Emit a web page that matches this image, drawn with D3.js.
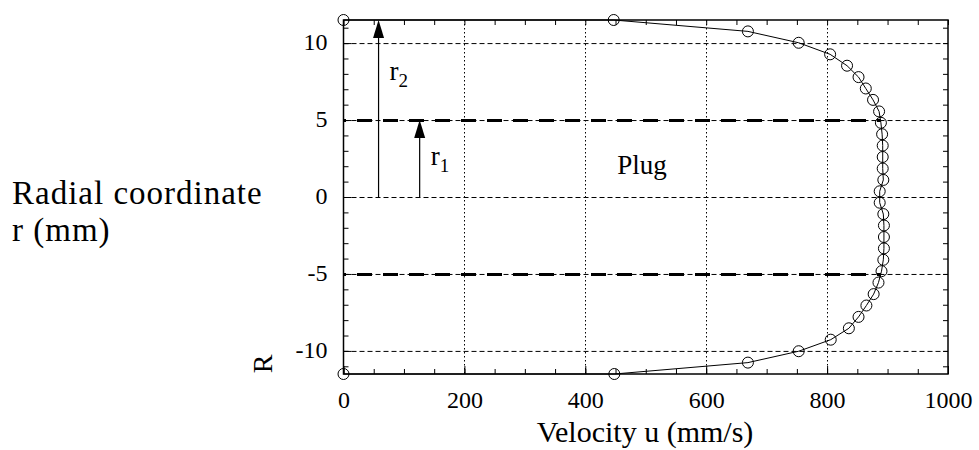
<!DOCTYPE html>
<html>
<head>
<meta charset="utf-8">
<script src="https://cdn.jsdelivr.net/npm/d3@7/dist/d3.min.js"></script>
<style>
  body { margin: 0; background: #fff; }
  svg { display: block; }
  .serif { font-family: "Liberation Serif", "Times New Roman", serif; fill: #000; }
</style>
</head>
<body>
<div id="chart"></div>
<script>
'use strict';

// Data: velocity profile u(r) (mm, mm/s)
var radius = [11.5, 11.5, 10.76, 10.02, 9.27, 8.53, 7.79, 7.05, 6.31, 5.56, 4.82, 4.08, 3.34,
  2.60, 1.85, 1.11, 0.37, -0.37, -1.11, -1.85, -2.60, -3.34, -4.08, -4.82, -5.56, -6.31,
  -7.05, -7.79, -8.53, -9.27, -10.02, -10.76, -11.5, -11.5]
var velocity = [0, 447, 669, 753, 805, 833, 852, 864, 876, 886, 889, 891, 892,
  892, 892, 893, 887, 887, 893, 894, 894, 894, 893, 890, 885, 877,
  865, 852, 836, 806, 753, 669, 448, 0]

var uTicks = [0, 200, 400, 600, 800, 1000]
var rTicks = [-10, -5, 0, 5, 10]
var uGrid = [200, 400, 600, 800]
var rGrid = [-10, -5, 0, 5, 10]
var plugR = [5, -5]
var plugU = 889

// arrows r1 / r2 drawn from r = 0 up to the given radius
var arrowNames = ['r2', 'r1']
var arrowU = [58, 126]
var arrowR = [11.5, 5]

var width = 979, height = 450
var serif = '"Liberation Serif", "Times New Roman", serif'

var x = d3.scaleLinear().domain([0, 1000]).range([343.5, 948])
var y = d3.scaleLinear().domain([-11.5, 11.5]).range([374, 20])

var svg = d3.select('#chart').append('svg')
  .attr('width', width)
  .attr('height', height)

// Grid
svg.append('g').selectAll('line')
  .data(rGrid)
  .enter().append('line')
    .attr('x1', x(0)).attr('x2', x(1000))
    .attr('y1', function(d) { return y(d) + 0.5 })
    .attr('y2', function(d) { return y(d) + 0.5 })
    .style('stroke', '#000')
    .style('stroke-width', 1)
    .style('stroke-dasharray', '5,3')

svg.append('g').selectAll('line')
  .data(uGrid)
  .enter().append('line')
    .attr('x1', function(d) { return Math.round(x(d)) + 0.5 })
    .attr('x2', function(d) { return Math.round(x(d)) + 0.5 })
    .attr('y1', y(11.5)).attr('y2', y(-11.5))
    .style('stroke', '#000')
    .style('stroke-width', 1)
    .style('stroke-dasharray', '1.5,2.5')

// Plug boundaries
svg.append('g').selectAll('line')
  .data(plugR)
  .enter().append('line')
    .attr('x1', x(0)).attr('x2', x(plugU))
    .attr('y1', function(d) { return y(d) + 0.5 })
    .attr('y2', function(d) { return y(d) + 0.5 })
    .style('stroke', '#000')
    .style('stroke-width', 3)
    .style('stroke-dasharray', '15,11')
    .style('stroke-dashoffset', 12.5)

// Axes (ticks inward)
var fmt = function(d) { return String(d) }

function styleAxis(g) {
  g.attr('font-family', serif).attr('font-size', 24)
  g.select('.domain').remove()
  g.selectAll('line').style('stroke', '#000').style('stroke-width', 1)
  g.selectAll('text').style('fill', '#000')
}

svg.append('g')
  .attr('transform', 'translate(0,' + y(-11.5) + ')')
  .call(d3.axisBottom(x).ticks(20).tickSize(-5).tickSizeOuter(0).tickFormat(''))
  .call(styleAxis)
svg.append('g')
  .attr('transform', 'translate(0,' + y(-11.5) + ')')
  .call(d3.axisBottom(x).tickValues(uTicks).tickSize(-8).tickSizeOuter(0).tickPadding(17).tickFormat(fmt))
  .call(styleAxis)

svg.append('g')
  .attr('transform', 'translate(0,' + y(11.5) + ')')
  .call(d3.axisTop(x).ticks(20).tickSize(-5).tickSizeOuter(0).tickFormat(''))
  .call(styleAxis)

svg.append('g')
  .attr('transform', 'translate(' + x(0) + ',0)')
  .call(d3.axisLeft(y).ticks(23).tickSize(-5).tickSizeOuter(0).tickFormat(''))
  .call(styleAxis)
svg.append('g')
  .attr('transform', 'translate(' + x(0) + ',0)')
  .call(d3.axisLeft(y).tickValues(rTicks).tickSize(-8).tickSizeOuter(0).tickPadding(16).tickFormat(fmt))
  .call(styleAxis)
  .selectAll('text').attr('dy', '0.28em')

svg.append('g')
  .attr('transform', 'translate(' + x(1000) + ',0)')
  .call(d3.axisRight(y).ticks(23).tickSize(-5).tickSizeOuter(0).tickFormat(''))
  .call(styleAxis)

// Frame
svg.append('rect')
  .attr('x', x(0)).attr('y', y(11.5))
  .attr('width', x(1000) - x(0))
  .attr('height', y(-11.5) - y(11.5))
  .style('fill', 'none')
  .style('stroke', '#000')
  .style('stroke-width', 1.5)

// Profile
var points = radius.map(function(r, i) { return {r: r, u: velocity[i]} })

var line = d3.line()
  .x(function(d) { return x(d.u) })
  .y(function(d) { return y(d.r) })

svg.append('path')
  .datum(points)
  .attr('d', line)
  .style('fill', 'none')
  .style('stroke', '#000')
  .style('stroke-width', 1)

svg.append('g').selectAll('circle')
  .data(points)
  .enter().append('circle')
    .attr('cx', function(d) { return x(d.u) })
    .attr('cy', function(d) { return y(d.r) })
    .attr('r', 5.5)
    .style('fill', 'none')
    .style('stroke', '#000')
    .style('stroke-width', 1)

// Arrows
var arrows = arrowNames.map(function(n, i) { return {name: n, u: arrowU[i], r: arrowR[i]} })

var arrow = svg.append('g').selectAll('.arrow')
  .data(arrows)
  .enter().append('g')
    .attr('class', 'arrow')

arrow.append('line')
  .attr('x1', function(d) { return x(d.u) })
  .attr('x2', function(d) { return x(d.u) })
  .attr('y1', y(0))
  .attr('y2', function(d) { return y(d.r) + 10 })
  .style('stroke', '#000')
  .style('stroke-width', 1.2)

arrow.append('path')
  .attr('d', function(d) {
    var px = x(d.u), py = y(d.r)
    return 'M' + px + ',' + py + 'L' + (px - 5.5) + ',' + (py + 18) + 'L' + (px + 5.5) + ',' + (py + 18) + 'Z'
  })
  .style('fill', '#000')

// Labels
var label = svg.append('g').selectAll('.lbl')
  .data(arrows)
  .enter().append('text')
    .attr('class', 'serif')
    .attr('x', function(d) { return x(d.u) + 11 })
    .attr('y', function(d) { return d.name == 'r2' ? 80 : 165 })
    .style('font-size', '27px')

label.append('tspan').text('r')
label.append('tspan')
  .attr('dy', 7)
  .style('font-size', '19px')
  .text(function(d) { return d.name.slice(1) })

svg.append('text')
  .attr('class', 'serif')
  .attr('x', 642).attr('y', 174)
  .attr('text-anchor', 'middle')
  .style('font-size', '27px')
  .text('Plug')

svg.append('text')
  .attr('class', 'serif')
  .attr('x', 645).attr('y', 442)
  .attr('text-anchor', 'middle')
  .style('font-size', '30px')
  .text('Velocity u (mm/s)')

var yTitle = svg.append('text')
  .attr('class', 'serif')
  .attr('x', 12).attr('y', 204)
  .style('font-size', '33px')
  .style('letter-spacing', '1px')
yTitle.append('tspan').attr('x', 12).text('Radial coordinate')
yTitle.append('tspan').attr('x', 12).attr('dy', 37).text('r (mm)')

svg.append('text')
  .attr('class', 'serif')
  .attr('transform', 'translate(272,364) rotate(-90)')
  .attr('text-anchor', 'middle')
  .style('font-size', '28px')
  .text('R')
</script>
</body>
</html>
